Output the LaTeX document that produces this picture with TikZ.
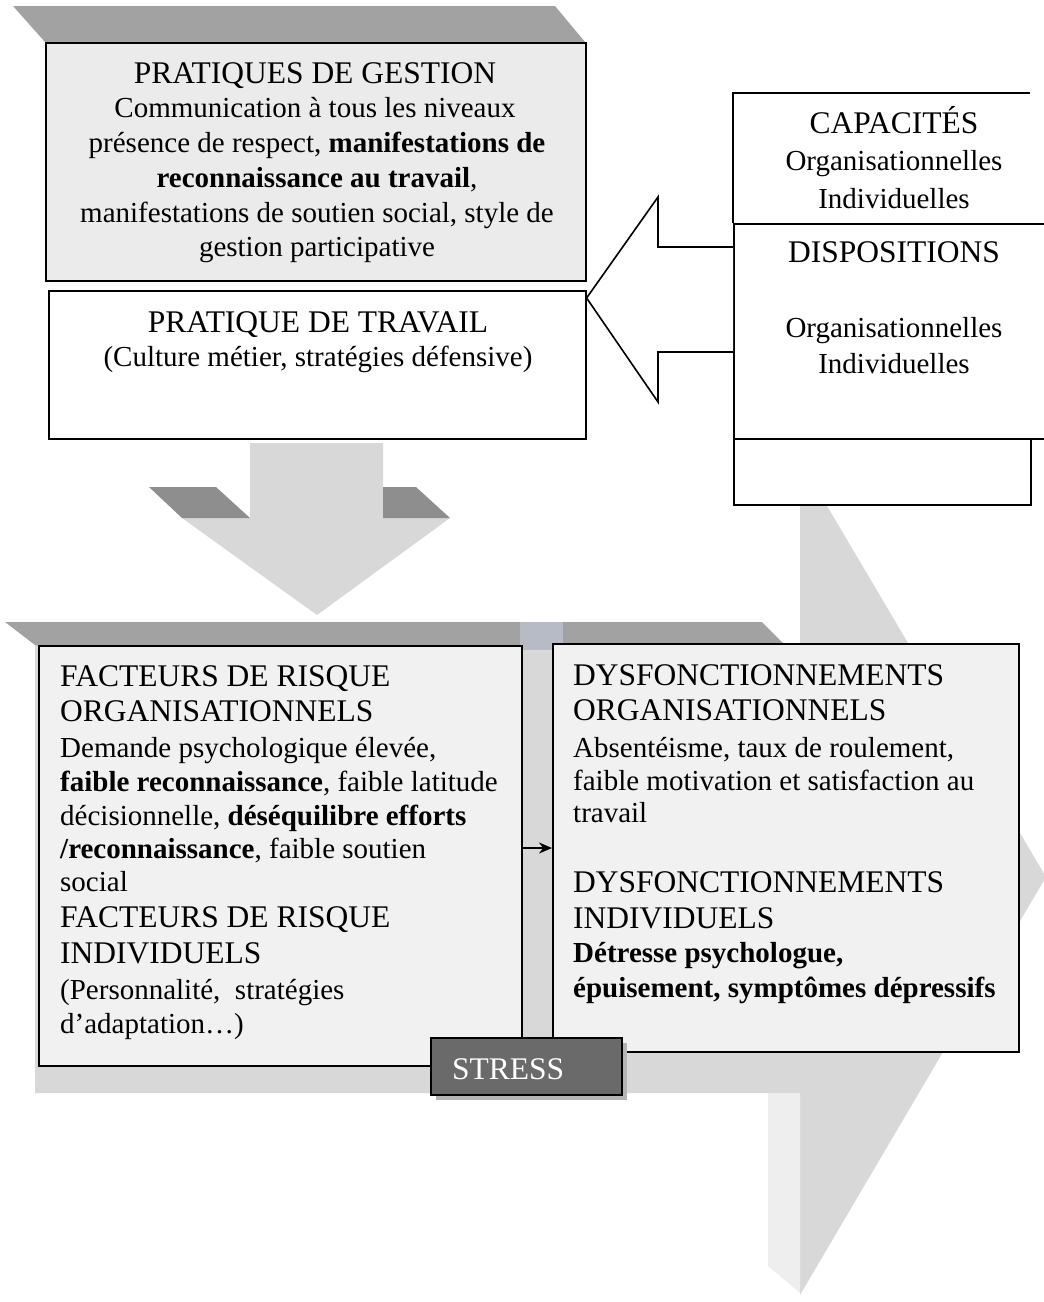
\documentclass[tikz,border=0pt]{standalone}
\usepackage{fontspec}
\setmainfont{Liberation Serif}
\usetikzlibrary{arrows.meta}
\definecolor{bandgray}{HTML}{A2A2A2}
\definecolor{arrowgray}{HTML}{D8D8D8}
\definecolor{stripgray}{HTML}{EEEEEE}
\definecolor{boxgray}{HTML}{EBEBEB}
\definecolor{boxlight}{HTML}{F1F1F1}
\definecolor{stressgray}{HTML}{6A6A6A}
\definecolor{shadowgray}{HTML}{B4B4B4}
\definecolor{bluegray}{HTML}{B7BBC6}
\definecolor{shouldergray}{HTML}{8E8E8E}
\tikzset{
  frame/.style={draw=black, line width=1.6pt, inner sep=0pt, anchor=north west},
  body/.style={font=\fontsize{29}{34}\selectfont, inner sep=0pt},
  titletext/.style={font=\fontsize{31.5}{37}\selectfont, inner sep=0pt},
}
\begin{document}
\begin{tikzpicture}[x=1pt,y=-1pt]
\useasboundingbox (0,0) rectangle (1044,1302);

% ---- big 3D right arrow (background) ----
\fill[arrowgray] (35,645) -- (800,645) -- (800,460) -- (1046,877) -- (800,1295) -- (800,1093) -- (35,1093) -- cycle;
\fill[stripgray] (768,1093) -- (800,1093) -- (800,1293) -- (768,1266) -- cycle;
\fill[bandgray] (5,622) -- (762,622) -- (785,645) -- (35,645) -- cycle;
\fill[bluegray] (520,622) rectangle (563,650);

% ---- lower boxes ----
\node[frame, fill=boxlight, minimum width=483, minimum height=420] (fact) at (38,645) {};
\node[frame, fill=boxlight, minimum width=466, minimum height=408] (dys) at (552,643) {};

\node[titletext, anchor=base west] (f1) at (60,686) {FACTEURS DE RISQUE};
\node[titletext, anchor=base west] (f2) at (60,721) {ORGANISATIONNELS};
\node[body, anchor=base west] (f3) at (60,757) {Demande psychologique élevée,};
\node[body, anchor=base west] (f4) at (60,791) {\textbf{faible reconnaissance}, faible latitude};
\node[body, anchor=base west] (f5) at (60,825) {décisionnelle, \textbf{déséquilibre efforts}};
\node[body, anchor=base west] (f6) at (60,858) {\textbf{/reconnaissance}, faible soutien};
\node[body, anchor=base west] (f7) at (60,891) {social};
\node[titletext, anchor=base west] (f8) at (60,927) {FACTEURS DE RISQUE};
\node[titletext, anchor=base west] (f9) at (60,963) {INDIVIDUELS};
\node[body, anchor=base west] (f10) at (60,999) {(Personnalité,\ \ stratégies};
\node[body, anchor=base west] (f11) at (60,1033) {d’adaptation…)};

\node[titletext, anchor=base west] (d1) at (573,685) {DYSFONCTIONNEMENTS};
\node[titletext, anchor=base west] (d2) at (573,720) {ORGANISATIONNELS};
\node[body, anchor=base west] (d3) at (573,757) {Absentéisme, taux de roulement,};
\node[body, anchor=base west] (d4) at (573,790) {faible motivation et satisfaction au};
\node[body, anchor=base west] (d5) at (573,822) {travail};
\node[titletext, anchor=base west] (d6) at (573,892) {DYSFONCTIONNEMENTS};
\node[titletext, anchor=base west] (d7) at (573,928) {INDIVIDUELS};
\node[body, anchor=base west] (d8) at (573,962) {\textbf{Détresse psychologue,}};
\node[body, anchor=base west] (d9) at (573,997) {\textbf{épuisement, symptômes dépressifs}};

\coordinate (link) at (fact.east |- 0,848);
\draw[line width=1.6pt, -{Stealth[length=13pt,width=11pt]}] (link) -- (dys.west |- link);

% ---- STRESS ----
\fill[shadowgray] (436,1043) rectangle (627,1100);
\node[frame, fill=stressgray, minimum width=191, minimum height=57] (stress) at (430,1037) {};
\node[titletext, text=white, anchor=base west] (stresstxt) at (452,1079) {STRESS};

% ---- top 3D block ----
\fill[bandgray] (13,6) -- (555,6) -- (585,42) -- (45,42) -- cycle;
\node[frame, fill=boxgray, minimum width=540, minimum height=238] (gest) at (45,42) {};
\node[frame, fill=white, minimum width=537, minimum height=148] (trav) at (48,290) {};

\node[titletext, anchor=base] (g1) at (315,83) {PRATIQUES DE GESTION};
\node[body, anchor=base] (g2) at (315,117) {Communication à tous les niveaux};
\node[body, anchor=base] (g3) at (317,152) {présence de respect, \textbf{manifestations de}};
\node[body, anchor=base] (g4) at (317,187) {\textbf{reconnaissance au travail},};
\node[body, anchor=base] (g5) at (317,222) {manifestations de soutien social, style de};
\node[body, anchor=base] (g6) at (317,256) {gestion participative};

\node[titletext, anchor=base] (t1) at (318,332) {PRATIQUE DE TRAVAIL};
\node[body, anchor=base] (t2) at (318,366) {(Culture métier, stratégies défensive)};

% ---- down arrow ----
\fill[arrowgray] (250,443) -- (383,443) -- (383,518) -- (450,518) -- (317,615) -- (182,518) -- (250,518) -- cycle;
\fill[shouldergray] (149,487) -- (216,487) -- (250,518) -- (182,518) -- cycle;
\fill[shouldergray] (383,487) -- (416,487) -- (450,518) -- (383,518) -- cycle;

% ---- right boxes ----
\node[frame, fill=white, minimum width=297, minimum height=66] (blank) at (733,438) {};
\node[anchor=north west, inner sep=0pt, fill=white, minimum width=320, minimum height=130] (cap) at (733,93) {};
\draw[line width=1.6pt] (1030,93) -- (cap.north west) -- (cap.south west);
\node[frame, fill=white, minimum width=320, minimum height=215] (disp) at (733,223) {};

\node[titletext, anchor=base] (c1) at (894,133) {CAPACITÉS};
\node[body, anchor=base] (c2) at (894,170) {Organisationnelles};
\node[body, anchor=base] (c3) at (894,208) {Individuelles};
\node[titletext, anchor=base] (p1) at (894,262) {DISPOSITIONS};
\node[body, anchor=base] (p2) at (894,337) {Organisationnelles};
\node[body, anchor=base] (p3) at (894,373) {Individuelles};

% ---- hollow arrow pointing left ----
\draw[line width=1.6pt, fill=white, line join=miter] (disp.west |- 0,247) -- (658,247) -- (658,197) -- (trav.north east |- 0,298) -- (658,402) -- (658,352) -- (disp.west |- 0,352);
\end{tikzpicture}
\end{document}
